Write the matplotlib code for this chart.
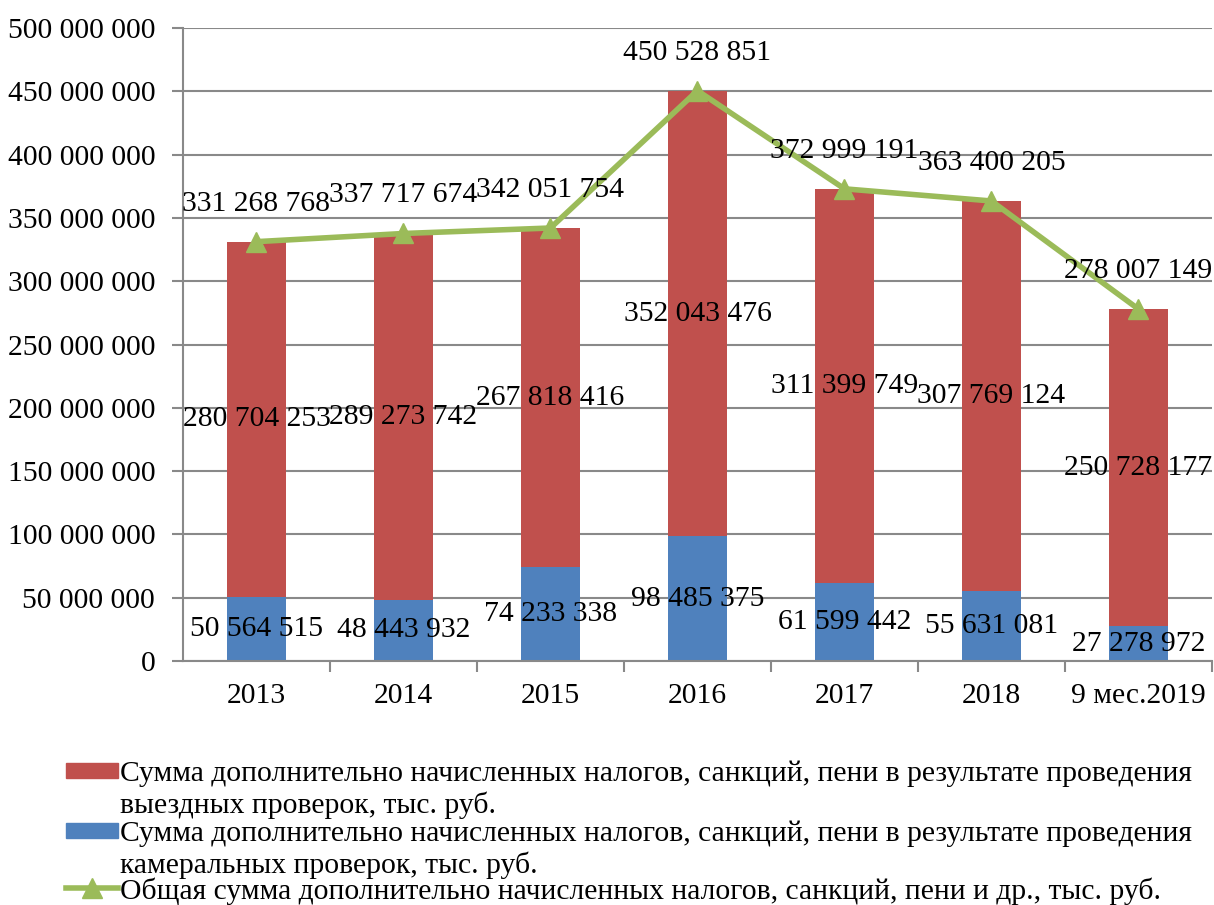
import matplotlib.pyplot as plt
from matplotlib.patches import Rectangle
from matplotlib.lines import Line2D
from matplotlib.ticker import FuncFormatter, FixedLocator

plt.rcParams['font.family'] = ['Liberation Serif', 'DejaVu Serif']

years = ['2013', '2014', '2015', '2016', '2017', '2018', '9 мес.2019']
kameral = [50564515, 48443932, 74233338, 98485375, 61599442, 55631081, 27278972]
vyezd = [280704253, 289273742, 267818416, 352043476, 311399749, 307769124, 250728177]
total = [331268768, 337717674, 342051754, 450528851, 372999191, 363400205, 278007149]

lbl_red = 'Сумма дополнительно начисленных налогов, санкций, пени в результате проведения\nвыездных проверок, тыс. руб.'
lbl_blue = 'Сумма дополнительно начисленных налогов, санкций, пени в результате проведения\nкамеральных проверок, тыс. руб.'
lbl_green = 'Общая сумма дополнительно начисленных налогов, санкций, пени и др., тыс. руб.'

red = '#C0504D'
blue = '#4F81BD'
green = '#9BBB59'
gray = '#898989'
fs = 21.3


def fmt(v):
    return f'{int(v):,}'.replace(',', ' ')


fig = plt.figure(figsize=(12.14, 9.05), dpi=100)
ax = fig.add_axes([0.1507, 0.2696, 0.8476, 0.6994])

x = list(range(len(years)))
ax.bar(x, kameral, width=0.4, color=blue, zorder=2)
ax.bar(x, vyezd, width=0.4, bottom=kameral, color=red, zorder=2)
ax.plot(x, total, color=green, lw=4, marker='^', ms=14, zorder=3)

for i in x:
    ax.text(i, kameral[i] / 2, fmt(kameral[i]), ha='center', va='center', fontsize=fs, zorder=4)
    ax.text(i, kameral[i] + vyezd[i] / 2, fmt(vyezd[i]), ha='center', va='center', fontsize=fs, zorder=4)
    ax.annotate(fmt(total[i]), (i, total[i]), xytext=(0, 38), textcoords='offset pixels',
                ha='center', va='center', fontsize=fs, zorder=4)

ax.set_xlim(-0.5, len(years) - 0.5)
ax.set_ylim(0, 500000000)
ax.set_yticks(range(0, 500000001, 50000000))
ax.yaxis.set_major_formatter(FuncFormatter(lambda v, p: fmt(v)))
ax.grid(axis='y', color=gray, lw=1.5, zorder=0)
ax.tick_params(axis='y', length=8, width=1.5, color=gray, labelsize=fs, pad=12)

ax.set_xticks(x)
ax.set_xticklabels(years)
ax.tick_params(axis='x', which='major', length=0, labelsize=fs, pad=16)
ax.xaxis.set_minor_locator(FixedLocator([i + 0.5 for i in x]))
ax.tick_params(axis='x', which='minor', length=8, width=1.5, color=gray)

for s in ['top', 'right']:
    ax.spines[s].set_visible(False)
for s in ['left', 'bottom']:
    ax.spines[s].set_color(gray)
    ax.spines[s].set_linewidth(1.5)

# legend drawn by hand so the markers sit on the first line of each entry
W, H = 1214, 905
def px(xp, yp):
    return xp / W, 1 - yp / H

# (patch top, baseline of last text line)
for ytop, ybase, col, lab in [(763, 813, red, lbl_red), (823, 873, blue, lbl_blue)]:
    x0, y0 = px(66, ytop + 15)
    fig.add_artist(Rectangle((x0, y0), 52 / W, 15 / H, transform=fig.transFigure, color=col))
    tx, ty = px(120, ybase)
    fig.text(tx, ty, lab, fontsize=fs, va='baseline', ha='left', linespacing=1.2)

lx0, ly = px(66, 888)
lx1, _ = px(118, 888)
fig.add_artist(Line2D([lx0, lx1], [ly, ly], transform=fig.transFigure, color=green, lw=4))
fig.add_artist(Line2D([(lx0 + lx1) / 2], [ly], transform=fig.transFigure, color=green,
                      marker='^', ms=14))
tx, ty = px(120, 899)
fig.text(tx, ty, lbl_green, fontsize=fs, va='baseline', ha='left')

fig.savefig('out.png', dpi=100)
